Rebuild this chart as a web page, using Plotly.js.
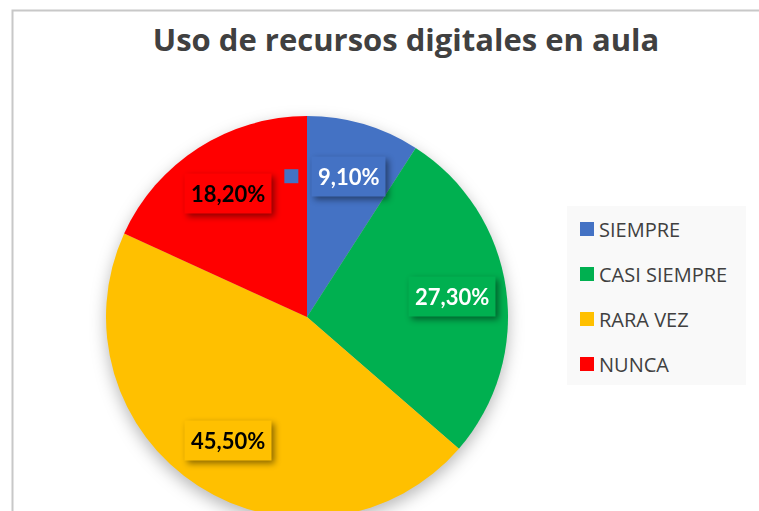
<!DOCTYPE html>
<html><head><meta charset="utf-8">
<script src="https://cdn.plot.ly/plotly-3.0.1.min.js"></script>
<style>
html,body{margin:0;padding:0;overflow:hidden;background:#fff;}
#chart{width:759px;height:540px;}
.pielayer{filter:drop-shadow(0px 6px 8px rgba(0,0,0,0.28));}
</style>
</head><body>
<div id="chart"></div>
<script>
const categories = ['SIEMPRE', 'CASI SIEMPRE', 'RARA VEZ', 'NUNCA'];
const values = [9.1, 27.3, 45.5, 18.2];
const labelTexts = ['9,10%', '27,30%', '45,50%', '18,20%'];
const sliceColors = ['#4472C4', '#00B050', '#FFC000', '#FF0000'];
const labelFontColors = ['#FFFFFF', '#FFFFFF', '#000000', '#000000'];

const W = 759, H = 540;
const cx = 307, cy = 317, R = 201;
const LABEL_F = 0.73;
const FONT = 'Lato, "Open Sans", sans-serif';
const FONT2 = '"Open Sans", Lato, sans-serif';

const total = values.reduce((a, b) => a + b, 0);
const annotations = [];
const shapes = [];

// chart frame
shapes.push({type:'rect', xref:'paper', yref:'paper', layer:'below',
  x0: 12.5/W, x1: 1.05, y0: -0.05, y1: 1 - 10.5/H,
  line:{color:'#c8c8c8', width:2}, fillcolor:'rgba(0,0,0,0)'});

// data labels from slice angles
let cum = 0;
values.forEach((v, i) => {
  const mid = (cum + v / 2) / total * 2 * Math.PI;
  cum += v;
  const px = cx + LABEL_F * R * Math.sin(mid);
  const py = cy - LABEL_F * R * Math.cos(mid);
  annotations.push({
    xref:'paper', yref:'paper', x: px / W, y: 1 - py / H,
    xanchor:'center', yanchor:'middle', showarrow:false,
    text: '<b>' + labelTexts[i] + '</b>',
    font:{family:FONT, size:22, color:labelFontColors[i]},
    bgcolor: sliceColors[i], borderpad:6
  });
  if (i === 0) {
    shapes.push({type:'rect', xref:'paper', yref:'paper',
      xsizemode:'pixel', ysizemode:'pixel',
      xanchor: px / W, yanchor: 1 - py / H,
      x0:-64, x1:-50, y0:-7, y1:7,
      fillcolor: sliceColors[i], line:{width:0}});
  }
});

// legend
const lgX0 = 567, lgX1 = 746, lgY0 = 206, lgY1 = 385;
shapes.push({type:'rect', xref:'paper', yref:'paper',
  x0: lgX0/W, x1: lgX1/W, y0: 1 - lgY1/H, y1: 1 - lgY0/H,
  fillcolor:'#f9f9f9', line:{width:0}});
categories.forEach((c, i) => {
  const yc = 229 + i * 45;
  shapes.push({type:'rect', xref:'paper', yref:'paper',
    x0: 580/W, x1: 594/W, y0: 1 - (yc + 7)/H, y1: 1 - (yc - 7)/H,
    fillcolor: sliceColors[i], line:{width:0}});
  annotations.push({xref:'paper', yref:'paper', x: 597/W, y: 1 - yc/H,
    xanchor:'left', yanchor:'middle', showarrow:false, text: c,
    font:{family:FONT2, size:20, color:'#404040'}});
});

const data = [{
  type:'pie', labels: categories, values: values, sort:false,
  direction:'clockwise', rotation:0, textinfo:'none', hoverinfo:'skip',
  marker:{colors: sliceColors, line:{width:0}},
  domain:{x:[(cx - R)/W, (cx + R)/W], y:[1 - (cy + R)/H, 1 - (cy - R)/H]},
  showlegend:false
}];

const layout = {
  width: W, height: H,
  margin:{l:0, r:0, t:0, b:0},
  paper_bgcolor:'#ffffff',
  showlegend:false,
  title:{text:'<b>Uso de recursos digitales en aula</b>', x: 406/W, xanchor:'center',
    y: 1 - 40/H, yanchor:'middle', yref:'paper',
    font:{family:FONT2, size:31, color:'#404040'}},
  annotations: annotations,
  shapes: shapes
};

Plotly.newPlot('chart', data, layout, {staticPlot:true, displayModeBar:false}).then(() => {
  document.querySelectorAll('.annotation').forEach((g, i) => {
    if (i < values.length) {
      const t = g.querySelector('.annotation-text-g');
      if (t) t.style.filter = 'drop-shadow(3px 3px 3px rgba(0,0,0,0.45))';
    }
  });
});
</script>
</body></html>
